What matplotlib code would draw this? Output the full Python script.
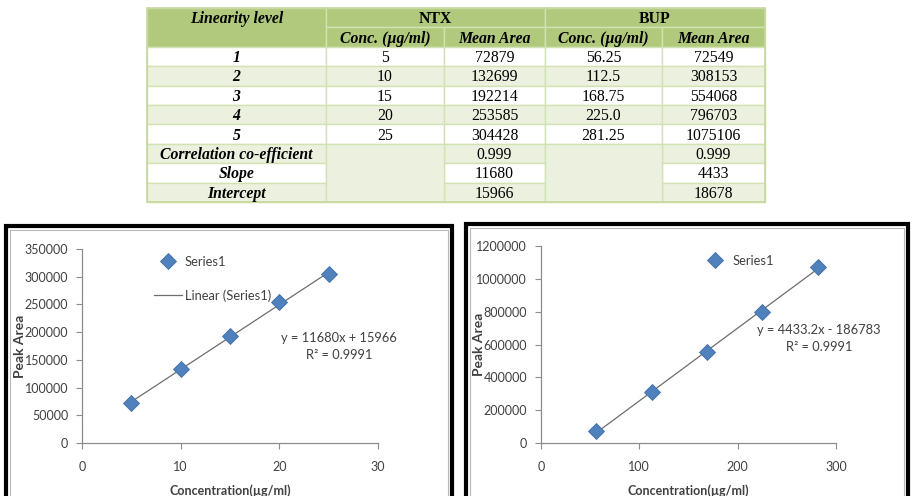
import matplotlib
matplotlib.use("Agg")
import matplotlib.pyplot as plt
import numpy as np
from matplotlib.patches import Rectangle

# ---------------- data ----------------
levels = ['1', '2', '3', '4', '5']
ntx_conc = [5, 10, 15, 20, 25]
ntx_area = [72879, 132699, 192214, 253585, 304428]
bup_conc = [56.25, 112.5, 168.75, 225.0, 281.25]
bup_conc_text = ['56.25', '112.5', '168.75', '225.0', '281.25']
bup_area = [72549, 308153, 554068, 796703, 1075106]
stat_names = ['Correlation co-efficient', 'Slope', 'Intercept']
ntx_stats = ['0.999', '11680', '15966']
bup_stats = ['0.999', '4433', '18678']
header_top = ['Linearity level', 'NTX', 'BUP']
header_sub = ['Conc. (\u00b5g/ml)', 'Mean Area', 'Conc. (\u00b5g/ml)', 'Mean Area']
ntx_yticks = [0, 50000, 100000, 150000, 200000, 250000, 300000, 350000]
ntx_xticks = [0, 10, 20, 30]
bup_yticks = [0, 200000, 400000, 600000, 800000, 1000000, 1200000]
bup_xticks = [0, 100, 200, 300]
ntx_eq = 'y = 11680x + 15966\nR\u00b2 = 0.9991'
bup_eq = 'y = 4433.2x - 186783\nR\u00b2 = 0.9991'
xlabel = 'Concentration(\u00b5g/ml)'
ylabel = 'Peak Area'

W, H = 916, 496
fig = plt.figure(figsize=(W / 100, H / 100), dpi=100)
fig.patch.set_facecolor('white')

# overlay axes in pixel coordinates
ov = fig.add_axes([0, 0, 1, 1], zorder=0)
ov.set_xlim(0, W)
ov.set_ylim(H, 0)
ov.axis('off')

# ---------------- table ----------------
serif = 'Liberation Serif'
hdr_green = '#b0c97c'
light_green = '#ebf1de'
grid_col = '#d3e2b3'
cols = [147, 326, 444, 545, 662, 765]
rh = 19.4
top = 8
rows = [top + i * rh for i in range(11)]

def cell(c0, c1, r0, r1, color):
    ov.add_patch(Rectangle((cols[c0], rows[r0]), cols[c1] - cols[c0], rows[r1] - rows[r0],
                           facecolor=color, edgecolor=grid_col, lw=1.0))

def ctext(c0, c1, r, s, bold=False, italic=False):
    ov.text((cols[c0] + cols[c1]) / 2, (rows[r] + rows[r + 1]) / 2 + 1.5, s,
            ha='center', va='center', fontsize=11.3, family=serif,
            fontweight='bold' if bold else 'normal',
            fontstyle='italic' if italic else 'normal', color='black')

# header
cell(0, 1, 0, 2, hdr_green)
cell(1, 3, 0, 1, hdr_green)
cell(3, 5, 0, 1, hdr_green)
for c in range(1, 5):
    cell(c, c + 1, 1, 2, hdr_green)
ctext(0, 1, 0, header_top[0], bold=True, italic=True)
ctext(1, 3, 0, header_top[1], bold=True)
ctext(3, 5, 0, header_top[2], bold=True)
for c in range(4):
    ctext(c + 1, c + 2, 1, header_sub[c], bold=True, italic=True)

# data rows
for i, lv in enumerate(levels):
    r = 2 + i
    col = 'white' if i % 2 == 0 else light_green
    for c in range(5):
        cell(c, c + 1, r, r + 1, col)
    ctext(0, 1, r, lv, bold=True, italic=True)
    ctext(1, 2, r, str(ntx_conc[i]))
    ctext(2, 3, r, str(ntx_area[i]))
    ctext(3, 4, r, bup_conc_text[i])
    ctext(4, 5, r, str(bup_area[i]))

# stats rows
for j, name in enumerate(stat_names):
    r = 7 + j
    col = 'white' if j == 1 else light_green
    cell(0, 1, r, r + 1, col)
    cell(2, 3, r, r + 1, col)
    cell(4, 5, r, r + 1, col)
    ctext(0, 1, r, name, bold=True, italic=True)
    ctext(2, 3, r, ntx_stats[j])
    ctext(4, 5, r, bup_stats[j])
cell(1, 2, 7, 10, light_green)
cell(3, 4, 7, 10, light_green)
ov.add_patch(Rectangle((cols[0], rows[0]), cols[-1] - cols[0], rows[-1] - rows[0],
                       facecolor='none', edgecolor='#c5d89e', lw=1.2))

# ---------------- chart frames ----------------
def frame(x0, x1, ytop):
    ov.plot([x0, x0, x1, x1], [H + 5, ytop, ytop, H + 5], color='black', lw=3.0,
            solid_joinstyle='miter', clip_on=False)
    ov.plot([x0 + 4, x0 + 4, x1 - 4, x1 - 4], [H + 5, ytop + 4, ytop + 4, H + 5],
            color='#b8b8b8', lw=0.8, clip_on=False)

frame(6, 452, 225.5)
frame(466, 907.5, 224)

# ---------------- charts ----------------
sans = 'Lato'
marker_col = '#4f81bd'
axis_col = '#8c8c8c'
text_col = '#404040'

def px_axes(x0, x1, y0, y1):
    return fig.add_axes([x0 / W, (H - y0) / H, (x1 - x0) / W, (y0 - y1) / H], zorder=2)

def style(ax, xt, yt, xl, yl):
    ax.set_xlim(xt[0], xt[-1])
    ax.set_ylim(yt[0], yt[-1])
    ax.set_xticks(xt)
    ax.set_yticks(yt)
    ax.set_xticklabels([str(v) for v in xt])
    ax.set_yticklabels([str(v) for v in yt])
    for s in ['top', 'right']:
        ax.spines[s].set_visible(False)
    for s in ['left', 'bottom']:
        ax.spines[s].set_color(axis_col)
        ax.spines[s].set_linewidth(0.9)
    ax.tick_params(axis='both', direction='out', length=4, width=0.8, color=axis_col,
                   labelsize=9, labelcolor=text_col)
    ax.tick_params(axis='x', pad=9)
    ax.tick_params(axis='y', pad=6)
    for lab in ax.get_xticklabels() + ax.get_yticklabels():
        lab.set_family(sans)
    ax.set_xlabel(xl, family=sans, fontweight='bold', fontsize=9, color=text_col)
    ax.set_ylabel(yl, family=sans, fontweight='bold', fontsize=10, color=text_col)
    ax.patch.set_alpha(0)

# NTX
ax1 = px_axes(82, 378, 443, 249)
coef1 = np.polyfit(ntx_conc, ntx_area, 1)
xs1 = np.array([ntx_conc[0], ntx_conc[-1]])
ax1.plot(ntx_conc, ntx_area, linestyle='none', marker='D', markersize=8,
         color=marker_col, markeredgecolor='#3f6fa8', markeredgewidth=0.6,
         label='Series1', zorder=3)
ax1.plot(xs1, np.polyval(coef1, xs1), color='#6e6e6e', lw=0.9, label='Linear (Series1)', zorder=2)
style(ax1, ntx_xticks, ntx_yticks, xlabel, ylabel)
ax1.xaxis.set_label_coords(0.5, -0.215)
ax1.yaxis.set_label_coords(-0.19, 0.5)
leg1 = ax1.legend(loc='upper left', bbox_to_anchor=(0.243, 0.965), frameon=False,
                  borderpad=0, borderaxespad=0, handlelength=2.2, handletextpad=0.2,
                  labelspacing=1.65, prop={'family': sans, 'size': 9.3})
for t in leg1.get_texts():
    t.set_color(text_col)
ax1.text(0.868, 0.498, ntx_eq, transform=ax1.transAxes, ha='center', va='center',
         family=sans, fontsize=9.3, color=text_col, linespacing=1.45, multialignment='center')

# BUP
ax2 = px_axes(541, 836, 443, 246)
coef2 = np.polyfit(bup_conc, bup_area, 1)
xs2 = np.array([bup_conc[0], bup_conc[-1]])
ax2.plot(bup_conc, bup_area, linestyle='none', marker='D', markersize=8,
         color=marker_col, markeredgecolor='#3f6fa8', markeredgewidth=0.6,
         label='Series1', zorder=3)
ax2.plot(xs2, np.polyval(coef2, xs2), color='#6e6e6e', lw=0.9, zorder=2)
style(ax2, bup_xticks, bup_yticks, xlabel, ylabel)
ax2.xaxis.set_label_coords(0.5, -0.21)
ax2.yaxis.set_label_coords(-0.19, 0.5)
leg2 = ax2.legend(loc='upper left', bbox_to_anchor=(0.543, 0.955), frameon=False,
                  borderpad=0, borderaxespad=0, handlelength=2.2, handletextpad=0.2,
                  prop={'family': sans, 'size': 9.3})
for t in leg2.get_texts():
    t.set_color(text_col)
ax2.text(0.942, 0.53, bup_eq, transform=ax2.transAxes, ha='center', va='center',
         family=sans, fontsize=9.3, color=text_col, linespacing=1.45, multialignment='center')

fig.savefig('out.png', dpi=100)
